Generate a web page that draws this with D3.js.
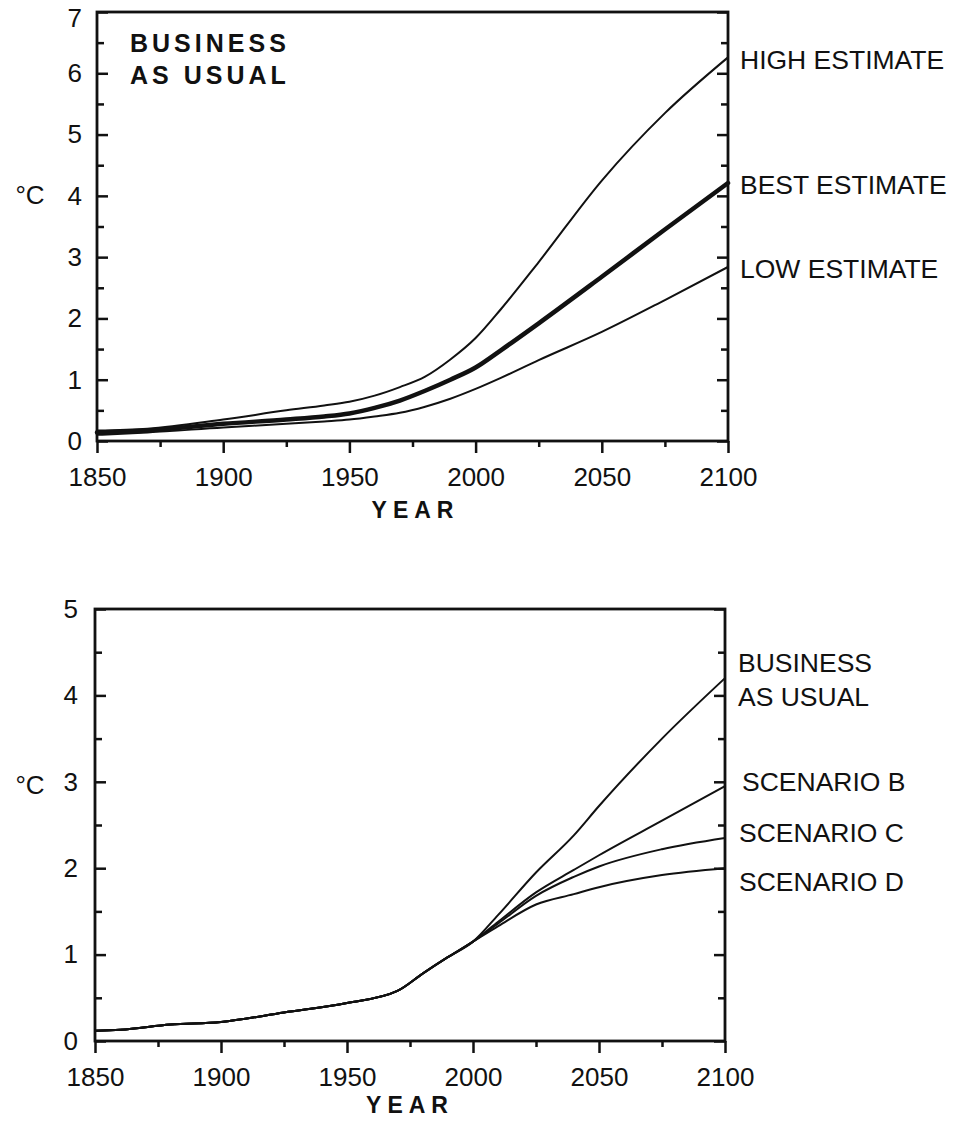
<!DOCTYPE html>
<html>
<head>
<meta charset="utf-8">
<script src="https://cdn.jsdelivr.net/npm/d3@7/dist/d3.min.js"></script>
<style>
  html, body { margin: 0; padding: 0; background: #fff; }
  svg { display: block; }
  text { font-family: "Liberation Sans", Arial, Helvetica, sans-serif; fill: #111; }
</style>
</head>
<body>
<svg id="chart" width="958" height="1131"></svg>
<script>
// ---- Upper panel: Business-as-Usual warming, with uncertainty range ----
const bauYears = [1850, 1870, 1900, 1925, 1940, 1950, 1960, 1970, 1980, 1990, 2000, 2010, 2025, 2050, 2075, 2100];
const highEstimate = [0.17, 0.20, 0.35, 0.50, 0.58, 0.64, 0.74, 0.88, 1.05, 1.33, 1.68, 2.15, 2.92, 4.25, 5.35, 6.26];
const bestEstimate = [0.14, 0.17, 0.28, 0.35, 0.40, 0.45, 0.54, 0.66, 0.82, 1.00, 1.20, 1.48, 1.92, 2.68, 3.45, 4.21];
const lowEstimate  = [0.10, 0.14, 0.22, 0.28, 0.32, 0.35, 0.40, 0.46, 0.56, 0.69, 0.85, 1.03, 1.32, 1.78, 2.30, 2.84];
const upperLabels = ["HIGH ESTIMATE", "BEST ESTIMATE", "LOW ESTIMATE"];

// ---- Lower panel: emission scenarios ----
const pastYears = [1850, 1860, 1880, 1900, 1925, 1950, 1970, 1980, 1990, 2000];
const pastWarming = [0.12, 0.13, 0.19, 0.22, 0.33, 0.44, 0.58, 0.78, 0.97, 1.15];
const futureYears = [2010, 2025, 2040, 2050, 2075, 2100];
const scenarioBAU = [1.46, 1.95, 2.38, 2.72, 3.50, 4.20];
const scenarioB   = [1.38, 1.72, 1.98, 2.15, 2.55, 2.95];
const scenarioC   = [1.36, 1.68, 1.90, 2.02, 2.22, 2.35];
const scenarioD   = [1.33, 1.58, 1.70, 1.78, 1.92, 2.00];
const lowerLabels = [["BUSINESS", "AS USUAL"], ["SCENARIO B"], ["SCENARIO C"], ["SCENARIO D"]];

// Axis ticks
const yearMajor = [1850, 1900, 1950, 2000, 2050, 2100];
const yearMinor = [1875, 1925, 1975, 2025, 2075];

const svg = d3.select("#chart");
svg.append("rect").attr("width", 958).attr("height", 1131).attr("fill", "#fff");

function panel(opt) {
  const x = d3.scaleLinear().domain([1850, 2100]).range([opt.left, opt.right]);
  const y = d3.scaleLinear().domain([0, opt.yMax]).range([opt.bottom, opt.top]);
  const g = svg.append("g");

  const majorY = d3.range(0, opt.yMax + 0.01, 1);
  const minorY = d3.range(0.5, opt.yMax, 1);

  // left axis: ticks point inward
  const left = g.append("g").attr("transform", `translate(${opt.left},0)`);
  left.call(d3.axisLeft(y).tickValues(majorY).tickSize(-11).tickPadding(opt.yPad).tickFormat(d3.format("d")));
  left.append("g").call(d3.axisLeft(y).tickValues(minorY).tickSize(-7).tickFormat(""));
  // right axis: ticks point inward
  const right = g.append("g").attr("transform", `translate(${opt.right},0)`);
  right.call(d3.axisRight(y).tickValues(majorY).tickSize(-11).tickFormat(""));
  right.append("g").call(d3.axisRight(y).tickValues(minorY).tickSize(-7).tickFormat(""));
  // bottom axis: ticks point outward
  const bottom = g.append("g").attr("transform", `translate(0,${opt.bottom})`);
  bottom.call(d3.axisBottom(x).tickValues(yearMajor).tickSize(12).tickPadding(15).tickFormat(d3.format("d")));
  bottom.append("g").call(d3.axisBottom(x).tickValues(yearMinor).tickSize(6).tickFormat(""));

  g.selectAll(".domain").remove();
  g.selectAll(".tick line").attr("stroke", "#111").attr("stroke-width", 2.5);
  g.selectAll(".tick text").attr("font-size", 26).attr("fill", "#111")
    .attr("font-family", "'Liberation Sans', Arial, sans-serif");

  // keep the topmost value label inside the page
  left.selectAll(".tick text").filter(d => d === opt.yMax && opt.top < 20).attr("dy", "0.55em");

  // frame
  g.append("rect")
    .attr("x", opt.left).attr("y", opt.top)
    .attr("width", opt.right - opt.left).attr("height", opt.bottom - opt.top)
    .attr("fill", "none").attr("stroke", "#111").attr("stroke-width", 2.8);

  // axis titles
  g.append("text")
    .attr("x", (opt.left + opt.right) / 2 + opt.titleShift).attr("y", opt.bottom + opt.titleDy)
    .attr("text-anchor", "middle").attr("font-size", 23).attr("font-weight", "bold")
    .attr("letter-spacing", 6).text("YEAR");
  g.append("text")
    .attr("x", 30).attr("y", opt.unitY).attr("dy", "0.35em")
    .attr("text-anchor", "middle").attr("font-size", 26).text("°C");

  return { g, x, y };
}

function drawSeries(p, xs, ys, width) {
  const line = d3.line()
    .x((d, i) => p.x(xs[i]))
    .y(d => p.y(d))
    .curve(d3.curveMonotoneX);
  p.g.append("path")
    .attr("d", line(ys))
    .attr("fill", "none").attr("stroke", "#111")
    .attr("stroke-width", width).attr("stroke-linejoin", "round").attr("stroke-linecap", "round");
}

// ---------------- Upper panel ----------------
const upper = panel({ left: 97, right: 728, top: 12, bottom: 441, yMax: 7, yPad: 15,
  titleDy: 77, titleShift: 3, unitY: 195 });

drawSeries(upper, bauYears, lowEstimate, 2);
drawSeries(upper, bauYears, highEstimate, 2);
drawSeries(upper, bauYears, bestEstimate, 4.5);

[highEstimate, bestEstimate, lowEstimate].forEach((s, i) => {
  upper.g.append("text")
    .attr("x", 740).attr("y", upper.y(s[s.length - 1]) + 2).attr("dy", "0.35em")
    .attr("font-size", 26.5).text(upperLabels[i]);
});

const bauTitle = upper.g.append("text").attr("font-size", 25).attr("font-weight", "bold")
  .attr("letter-spacing", 4);
bauTitle.append("tspan").attr("x", 130).attr("y", 52).text("BUSINESS");
bauTitle.append("tspan").attr("x", 130).attr("y", 84).text("AS USUAL");

// ---------------- Lower panel ----------------
const lower = panel({ left: 95, right: 725, top: 609, bottom: 1041, yMax: 5, yPad: 17,
  titleDy: 72, titleShift: 0, unitY: 785 });

const fullYears = pastYears.concat(futureYears);
const scenarios = [scenarioBAU, scenarioB, scenarioC, scenarioD];
scenarios.forEach(s => drawSeries(lower, fullYears, pastWarming.concat(s), 2));

const lowerLabelPos = [
  { x: 738, y: [663, 697] },
  { x: 742, y: [782] },
  { x: 739, y: [833] },
  { x: 739, y: [882] }
];
lowerLabels.forEach((lines, i) => {
  const t = lower.g.append("text").attr("font-size", 26.5);
  lines.forEach((s, j) => {
    t.append("tspan").attr("x", lowerLabelPos[i].x).attr("y", lowerLabelPos[i].y[j])
      .attr("dy", "0.35em").text(s);
  });
});
</script>
</body>
</html>
